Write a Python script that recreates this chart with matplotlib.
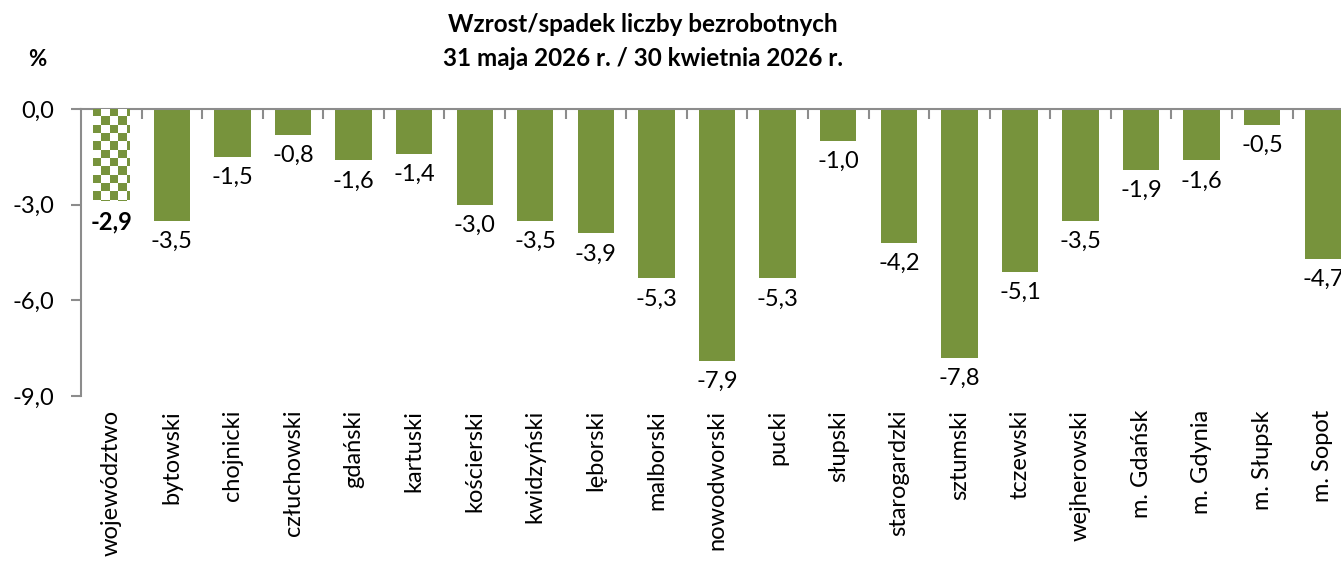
import matplotlib

matplotlib.use("Agg")
import matplotlib.pyplot as plt
import numpy as np
from matplotlib.colors import ListedColormap

plt.rcParams["font.family"] = ["Lato", "DejaVu Sans"]

CATEGORIES = [
    "województwo", "bytowski", "chojnicki", "człuchowski", "gdański", "kartuski",
    "kościerski", "kwidzyński", "lęborski", "malborski", "nowodworski", "pucki",
    "słupski", "starogardzki", "sztumski", "tczewski", "wejherowski",
    "m. Gdańsk", "m. Gdynia", "m. Słupsk", "m. Sopot",
]
VALUES = [
    -2.9, -3.5, -1.5, -0.8, -1.6, -1.4, -3.0, -3.5, -3.9, -5.3, -7.9, -5.3,
    -1.0, -4.2, -7.8, -5.1, -3.5, -1.9, -1.6, -0.5, -4.7,
]
YTICKS = [0.0, -3.0, -6.0, -9.0]

GREEN = "#77933C"
AXIS = "#8C8C8C"


def fmt(v):
    return f"{v:.1f}".replace(".", ",")


fig = plt.figure(figsize=(13.41, 5.62), dpi=100)
ax = fig.add_axes([81 / 1341, 1 - 396 / 562, 1 - 81 / 1341, (396 - 109) / 562])

x = np.arange(len(VALUES))
bars = ax.bar(x, VALUES, width=0.6, color=GREEN, zorder=2)

# checkered fill for the voivodeship bar
first = bars[0]
first.set_facecolor("white")
cw, ch = 8.3 / 60.6, 8.3 / 31.9
cols, rows = 6, 13
board = np.indices((rows, cols)).sum(axis=0) % 2
x0 = first.get_x()
img = ax.imshow(board, cmap=ListedColormap([GREEN, "white"]), origin="upper",
                aspect="auto", interpolation="nearest", zorder=3,
                extent=(x0, x0 + cols * cw, -rows * ch, 0))
img.set_clip_path(first)

for i, v in enumerate(VALUES):
    ax.annotate(fmt(v), (i, v), xytext=(0, -15), textcoords="offset points",
                ha="center", va="center", fontsize=17,
                fontweight="bold" if i == 0 else "normal", annotation_clip=False)

ax.set_xlim(-0.5, 20.3)
ax.set_ylim(-9, 0)

ax.set_yticks(YTICKS)
ax.set_yticklabels([fmt(t) for t in YTICKS], fontsize=17)
ax.tick_params(axis="y", direction="out", length=7, width=1.5, color=AXIS, pad=12)

ax.set_xticks(x)
ax.set_xticklabels(CATEGORIES, rotation=90, fontsize=17, va="top")
ax.tick_params(axis="x", which="major", length=0, pad=10)
ax.set_xticks(x[:-1] + 0.5, minor=True)
ax.tick_params(axis="x", which="minor", top=True, bottom=False, direction="in",
               length=7, width=1.5, color=AXIS)

for side in ("bottom", "right"):
    ax.spines[side].set_visible(False)
for side in ("top", "left"):
    ax.spines[side].set_color(AXIS)
    ax.spines[side].set_linewidth(1.5)

fig.text(643 / 1341, 1 - 25 / 562, "Wzrost/spadek liczby bezrobotnych",
         ha="center", va="center", fontsize=17.5, fontweight="bold")
fig.text(643 / 1341, 1 - 58 / 562, "31 maja 2026 r. / 30 kwietnia 2026 r.",
         ha="center", va="center", fontsize=17.5, fontweight="bold")
fig.text(37 / 1341, 1 - 60 / 562, "%", ha="center", va="center",
         fontsize=16, fontweight="bold")

fig.savefig("out.png", dpi=100)
